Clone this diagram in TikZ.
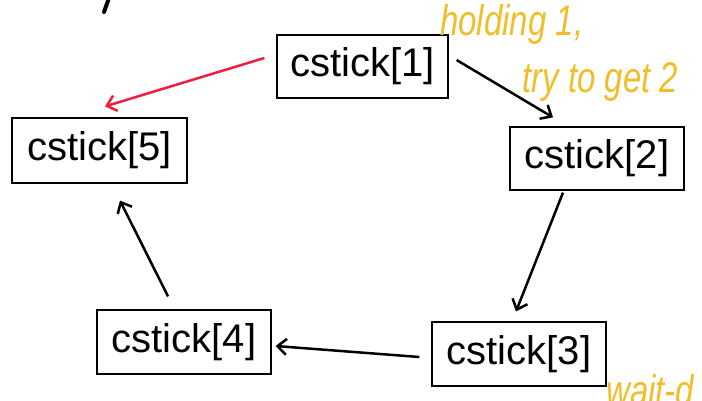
\documentclass[tikz,border=0pt]{standalone}
\usepackage{fontspec}
\setmainfont{Liberation Sans}
\usetikzlibrary{arrows.meta}

\tikzset{
  stickbox/.style={draw, line width=1.2pt, minimum width=174pt, minimum height=64pt, inner sep=0pt, font=\fontsize{40}{40}\selectfont},
  arr/.style={line width=2.5pt, -{Straight Barb[length=9pt,width=16pt,line width=2.5pt]}},
  note/.style={text=notey, font=\itshape\fontsize{33}{33}\selectfont, inner sep=0pt, yscale=1.3}
}
\definecolor{notey}{RGB}{240,190,40}
\definecolor{redarr}{RGB}{238,30,60}

\begin{document}
\begin{tikzpicture}[x=1pt,y=-1pt]
    \useasboundingbox (0,0) rectangle (702,400);
    % the five chopsticks
    \node[stickbox, minimum width=171pt, minimum height=63pt] (s1) at (362.5,66.5) {cstick[1]};
    \node[stickbox, minimum width=175pt, minimum height=65pt] (s5) at (99.5,150.5) {cstick[5]};
    \node[stickbox, minimum height=63pt] (s2) at (597,158.5) {cstick[2]};
    \node[stickbox] (s3) at (519,354) {cstick[3]};
    \node[stickbox] (s4) at (184,342) {cstick[4]};
    % arrows around the ring
    \draw[arr] ([xshift=8pt,yshift=6.5pt]s1.east) -- ([xshift=-44pt,yshift=9pt]s2.north);
    \draw[arr] ([xshift=-34pt,yshift=-2pt]s2.south) -- ([xshift=-3pt,yshift=10pt]s3.north);
    \draw[arr] ([xshift=-12pt,yshift=-3pt]s3.west) -- ([xshift=4pt,yshift=-4pt]s4.east);
    \draw[arr] ([xshift=-16pt,yshift=13pt]s4.north) -- ([xshift=20.5pt,yshift=-17pt]s5.south);
    \draw[arr, redarr] ([xshift=-12pt,yshift=8.5pt]s1.west) -- ([xshift=5.5pt,yshift=11pt]s5.north);
    % handwritten notes
    \node[note, anchor=north west] (n1) at (440,4) {holding 1,};
    \node[note, anchor=north west] (n2) at (522,62) {try to get 2};
    \node[note, anchor=north west] (n3) at (606,374) {wait-d};
    \draw[line width=4pt, line cap=round] (109,-2) -- (104,12);
\end{tikzpicture}
\end{document}
